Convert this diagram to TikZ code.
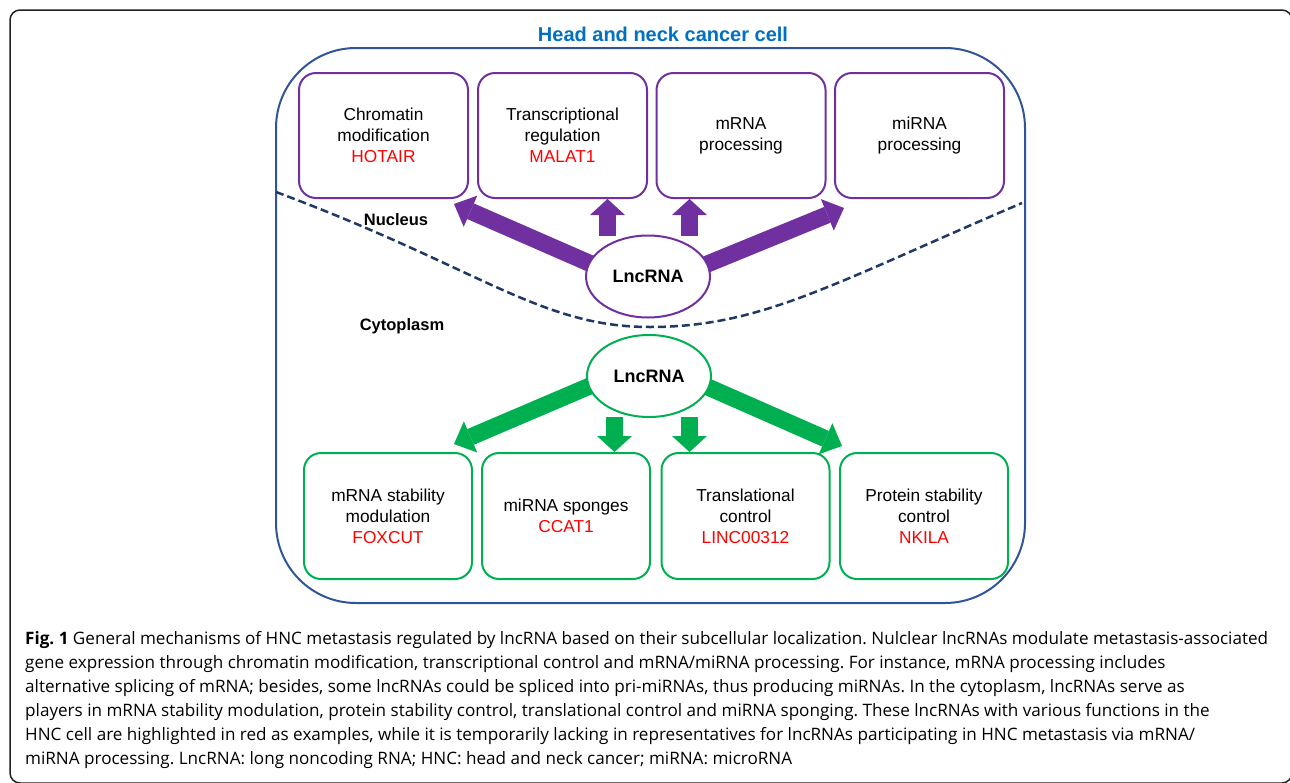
\documentclass[tikz,border=0pt]{standalone}
\usepackage{fontspec}
\setmainfont{Liberation Sans}
\newfontfamily\capfont{Open Sans}
\usetikzlibrary{arrows.meta,calc,backgrounds,shapes.geometric}
\definecolor{purp}{HTML}{7030A0}
\definecolor{grn}{HTML}{00B050}
\definecolor{redtxt}{HTML}{FF0000}
\definecolor{titleblue}{HTML}{0070C0}
\definecolor{cellblue}{HTML}{2F5597}
\definecolor{dashnavy}{HTML}{1F3864}
\definecolor{framegray}{HTML}{222222}
\frenchspacing
\tikzset{
  boxtext/.style={font=\fontsize{17.3}{21}\selectfont, align=center},
  pbox/.style={draw=purp, line width=2pt, rounded corners=17pt, minimum width=169pt, minimum height=125pt, inner sep=0pt, boxtext},
  gbox/.style={draw=grn, line width=2pt, rounded corners=17pt, minimum width=168pt, minimum height=126pt, inner sep=0pt, boxtext},
  lncbox/.style={ellipse, line width=2pt, fill=white, minimum width=124pt, minimum height=82pt, inner sep=0pt, font=\fontsize{18}{21}\selectfont\bfseries},
  diagarrow/.style={line width=17pt, -{Triangle[width=34pt,length=18pt,line width=0pt]}},
  vertarrow/.style={line width=17pt, -{Triangle[width=35pt,length=16pt,line width=0pt]}},
  regionlabel/.style={font=\fontsize{16.5}{20}\selectfont\bfseries},
  capline/.style={anchor=base west, inner sep=0pt, font=\capfont\fontsize{17.1}{20}\selectfont},
}
\newcommand{\hl}[1]{\textcolor{redtxt}{#1}}
\begin{document}
\begin{tikzpicture}[x=1pt,y=-1pt]
\useasboundingbox (0,0) rectangle (1290,782);
% outer figure frame
\draw[framegray, line width=1.5pt, rounded corners=10pt] (10,10) rectangle (1292,783);
% cell
\draw[cellblue, line width=2pt, rounded corners=80pt] (276,48) rectangle (1025,603);
\node[font=\fontsize{20}{24}\selectfont\bfseries, text=titleblue] (title) at (663,34) {Head and neck cancer cell};
% nuclear membrane
\draw[dashnavy, line width=2.5pt, dash pattern=on 8pt off 4pt]
  (276,192) .. controls (480,268) and (540,327) .. (650,327)
            .. controls (760,327) and (830,285) .. (1022,203);
\node[regionlabel] (nucleus) at (396,220) {Nucleus};
\node[regionlabel] (cyto) at (402,326) {Cytoplasm};
% nuclear boxes
\node[pbox] (chrom) at (383.5,135.5) {Chromatin\\modification\\\hl{HOTAIR}};
\node[pbox] (transc) at (562.5,135.5) {Transcriptional\\regulation\\\hl{MALAT1}};
\node[pbox] (mrnap) at (741,135.5) {mRNA\\processing};
\node[pbox] (mirnap) at (919.5,135.5) {miRNA\\processing};
% cytoplasmic boxes
\node[gbox] (mstab) at (388,516) {mRNA stability\\modulation\\\hl{FOXCUT}};
\node[gbox] (spong) at (566,516) {miRNA sponges\\\hl{CCAT1}};
\node[gbox] (transl) at (745.5,516) {Translational\\control\\\hl{LINC00312}};
\node[gbox] (prot) at (924,516) {Protein stability\\control\\\hl{NKILA}};
% lncRNA ellipses
\node[lncbox, draw=purp] (lncN) at (648,276.5) {LncRNA};
\node[lncbox, draw=grn] (lncC) at (649,376) {LncRNA};
% arrow tips and starts
\coordinate (tNL) at (454,204);
\coordinate (tNR) at (844,208);
\coordinate (tCL) at (454,444);
\coordinate (tCR) at (842,446);
\coordinate (uA) at ([xshift=-40.5pt,yshift=-1pt]lncN.north);
\coordinate (uB) at ([xshift=41.5pt,yshift=-1pt]lncN.north);
\coordinate (dA) at ([xshift=-34.5pt,yshift=1pt]lncC.south);
\coordinate (dB) at ([xshift=40.5pt,yshift=1pt]lncC.south);
\begin{pgfonlayer}{background}
\draw[purp, diagarrow] ($(lncN.167)!-25pt!(tNL)$) -- (tNL);
\draw[purp, diagarrow] ($(lncN.12)!-25pt!(tNR)$) -- (tNR);
\draw[purp, vertarrow] (uA) -- (uA |- transc.south);
\draw[purp, vertarrow] (uB) -- (uB |- mrnap.south);
\draw[grn, diagarrow] ($(lncC.190)!-25pt!(tCL)$) -- (tCL);
\draw[grn, diagarrow] ($(lncC.349)!-25pt!(tCR)$) -- (tCR);
\draw[grn, vertarrow] (dA) -- (dA |- spong.north);
\draw[grn, vertarrow] (dB) -- (dB |- transl.north);
\end{pgfonlayer}
% caption
\node[capline] (cap1) at (25,644) {\textbf{Fig. 1} General mechanisms of HNC metastasis regulated by lncRNA based on their subcellular localization. Nulclear lncRNAs modulate metastasis-associated};
\node[capline] (cap2) at (25,668) {gene expression through chromatin modification, transcriptional control and mRNA/miRNA processing. For instance, mRNA processing includes};
\node[capline] (cap3) at (25,692) {alternative splicing of mRNA; besides, some lncRNAs could be spliced into pri-miRNAs, thus producing miRNAs. In the cytoplasm, lncRNAs serve as};
\node[capline] (cap4) at (25,716) {players in mRNA stability modulation, protein stability control, translational control and miRNA sponging. These lncRNAs with various functions in the};
\node[capline] (cap5) at (25,740) {HNC cell are highlighted in red as examples, while it is temporarily lacking in representatives for lncRNAs participating in HNC metastasis via mRNA/};
\node[capline] (cap6) at (25,764) {miRNA processing. LncRNA: long noncoding RNA; HNC: head and neck cancer; miRNA: microRNA};
\end{tikzpicture}
\end{document}
